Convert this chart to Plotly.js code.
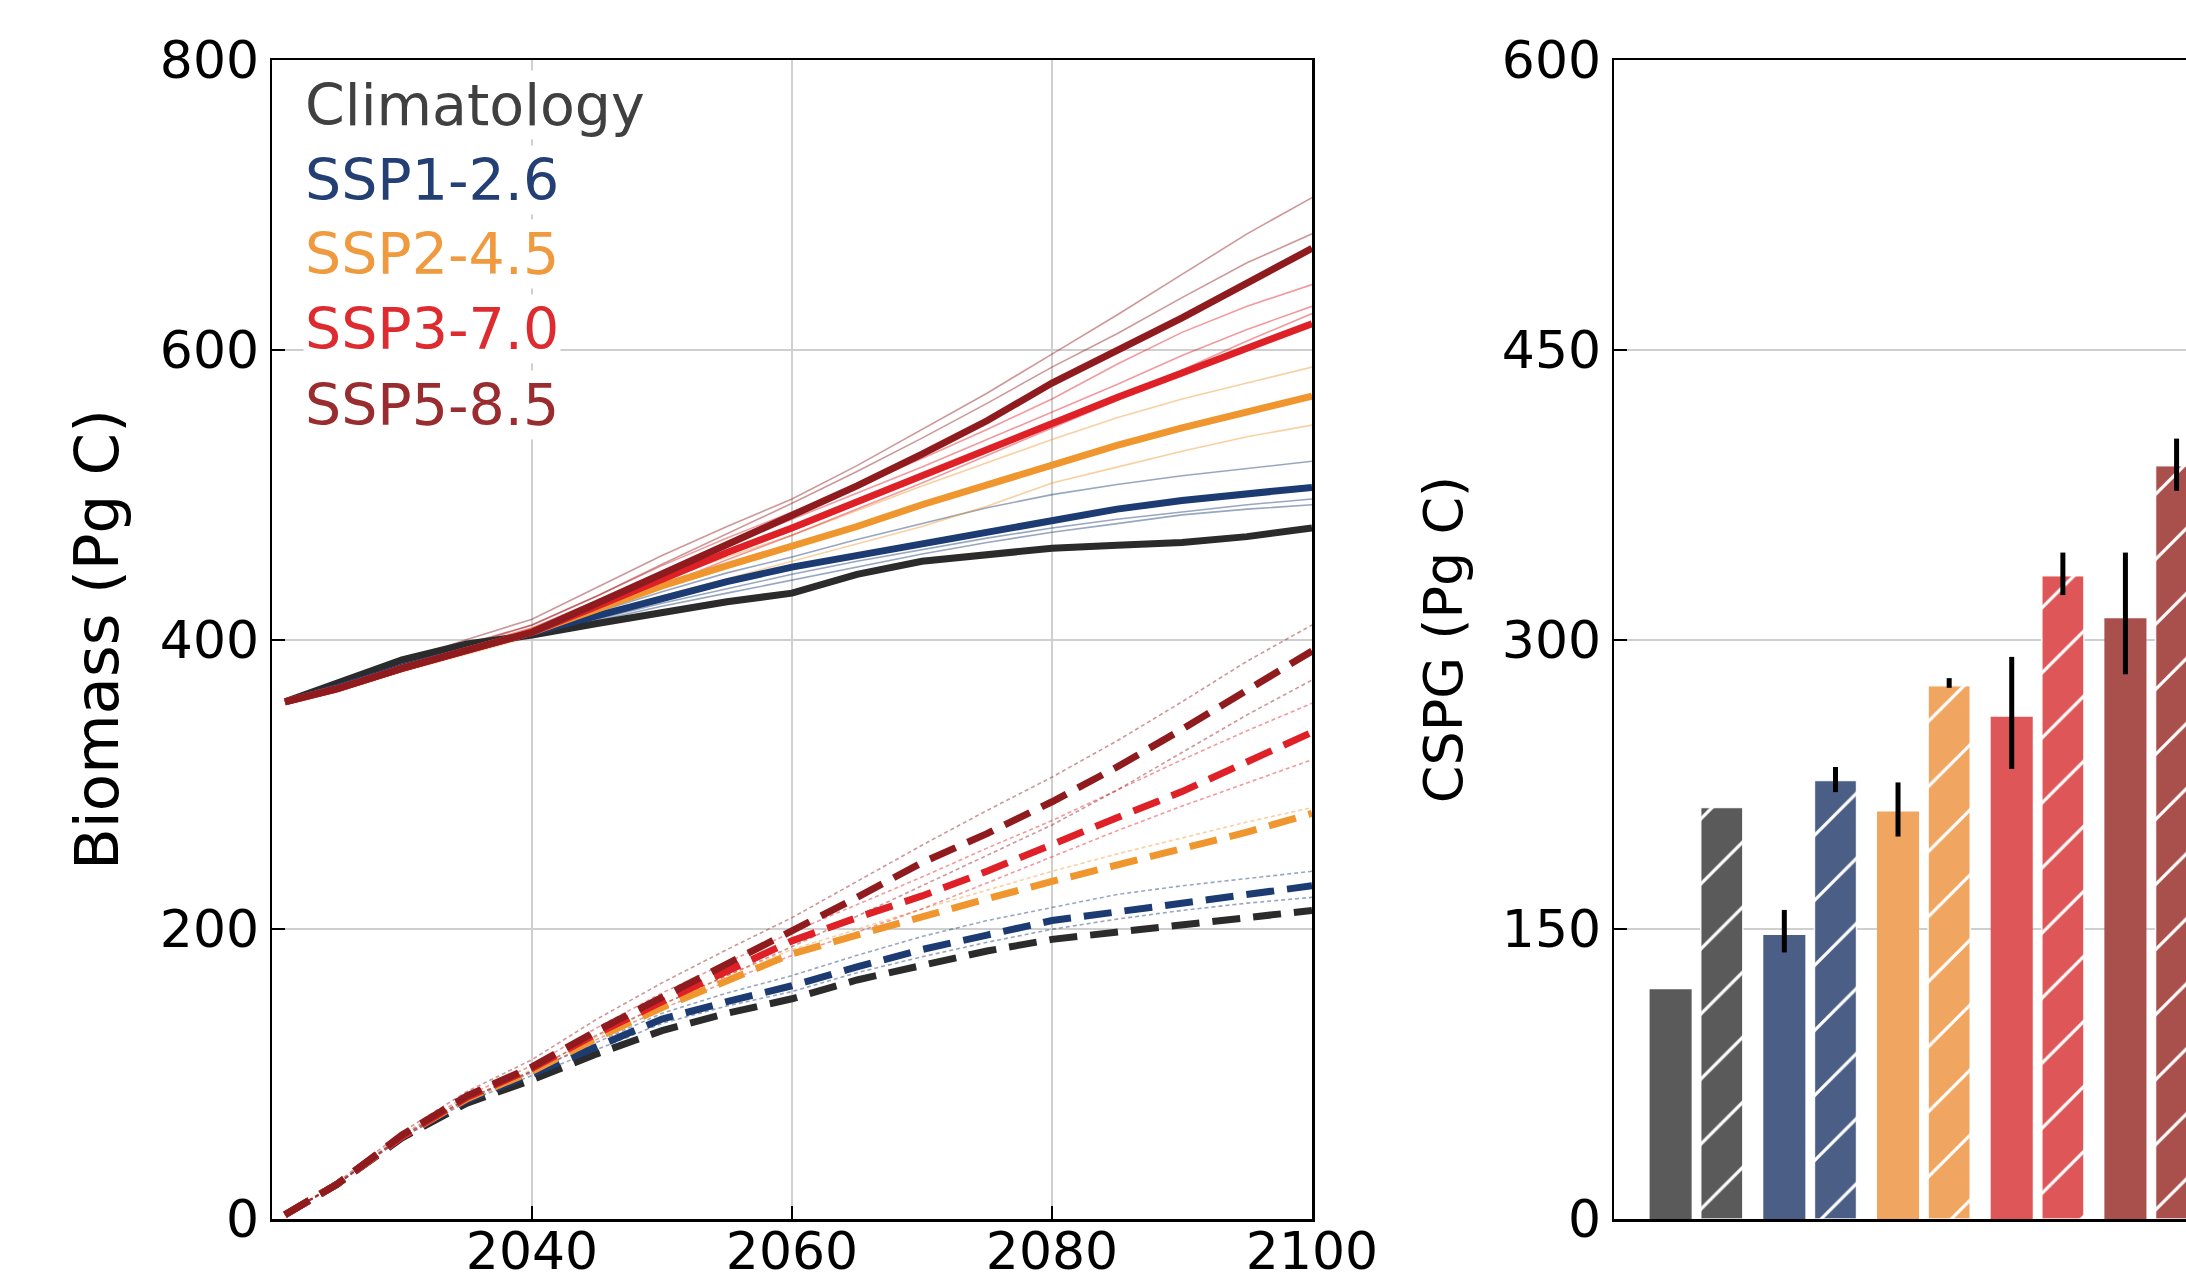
<!DOCTYPE html>
<html><head><meta charset="utf-8">
<script src="https://cdn.plot.ly/plotly-3.0.1.min.js"></script>
<style>html,body{margin:0;padding:0;overflow:hidden;background:#fff;width:2186px;height:1281px}#chart{width:2800px;height:1281px}</style>
</head><body><div id="chart"></div>
<script>
// ---- data ----
const years = [2021, 2025, 2030, 2035, 2040, 2045, 2050, 2055, 2060, 2065, 2070, 2075, 2080, 2085, 2090, 2095, 2100];
const scenarios = ['Climatology', 'SSP1-2.6', 'SSP2-4.5', 'SSP3-7.0', 'SSP5-8.5'];

// total biomass, ensemble means (solid)
const biomassClim = [357, 370, 386, 397, 403, 411, 419, 426, 432, 445, 454, 459, 463, 465, 467, 471, 477];
const biomassSSP1 = [357, 367, 381, 393, 404, 417, 429, 440, 450, 458, 466, 475, 483, 490, 496, 501, 505];
const biomassSSP2 = [357, 366, 380, 392, 405, 421, 437, 451, 464, 478, 493, 507, 520, 534, 546, 557, 568];
const biomassSSP3 = [357, 366, 380, 393, 405, 423, 442, 460, 477, 495, 513, 531, 550, 567, 584, 601, 618];
const biomassSSP5 = [357, 366, 380, 393, 405, 425, 445, 466, 486, 506, 528, 551, 577, 599, 622, 646, 670];

// total biomass, individual members (thin solid)
const biomassSSP1m1 = [357, 367, 381, 393, 405, 419, 433, 446, 457, 469, 480, 491, 500, 507, 513, 518, 523];
const biomassSSP1m2 = [357, 366, 380, 392, 403, 414, 425, 435, 445, 454, 462, 470, 477, 483, 488, 493, 497];
const biomassSSP1m3 = [357, 366, 380, 392, 403, 413, 423, 432, 441, 450, 459, 467, 474, 480, 486, 490, 493];
const biomassSSP2m1 = [357, 366, 381, 394, 408, 425, 442, 457, 472, 489, 506, 522, 538, 553, 566, 577, 588];
const biomassSSP2m2 = [357, 365, 378, 390, 402, 416, 430, 442, 454, 466, 478, 492, 508, 519, 530, 540, 548];
const biomassSSP3m1 = [357, 367, 383, 396, 410, 430, 451, 470, 488, 506, 525, 545, 566, 590, 612, 630, 645];
const biomassSSP3m2 = [357, 366, 381, 395, 408, 427, 446, 465, 483, 501, 519, 538, 557, 576, 596, 614, 630];
const biomassSSP3m3 = [357, 365, 378, 391, 403, 420, 437, 455, 472, 490, 508, 527, 546, 565, 586, 606, 625];
const biomassSSP5m1 = [357, 368, 385, 400, 414, 436, 458, 478, 497, 520, 545, 570, 597, 624, 652, 680, 705];
const biomassSSP5m2 = [357, 367, 383, 397, 410, 430, 452, 473, 494, 516, 539, 563, 588, 611, 636, 660, 680];

// cumulative sequestration, ensemble means (dashed)
const seqClim = [3, 24, 56, 80, 96, 114, 130, 142, 152, 165, 175, 185, 193, 198, 203, 208, 213];
const seqSSP1 = [3, 24, 57, 82, 100, 119, 138, 150, 161, 174, 186, 196, 206, 212, 218, 225, 230];
const seqSSP2 = [3, 24, 57, 83, 102, 125, 146, 165, 183, 196, 209, 221, 233, 244, 255, 267, 280];
const seqSSP3 = [3, 24, 57, 84, 104, 128, 150, 171, 192, 208, 223, 240, 259, 277, 295, 315, 336];
const seqSSP5 = [3, 24, 58, 85, 105, 130, 153, 176, 198, 222, 246, 266, 288, 312, 338, 365, 392];

// cumulative sequestration, members (thin dashed)
const seqSSP1m1 = [3, 24, 57, 83, 102, 122, 142, 156, 168, 182, 195, 206, 215, 224, 230, 235, 240];
const seqSSP1m2 = [3, 24, 56, 81, 99, 117, 135, 147, 157, 170, 181, 191, 200, 207, 213, 218, 222];
const seqSSP2m1 = [3, 24, 57, 83, 103, 126, 148, 168, 186, 200, 214, 227, 240, 252, 263, 274, 284];
const seqSSP3m1 = [3, 24, 58, 85, 106, 132, 156, 177, 198, 217, 236, 256, 275, 296, 317, 337, 356];
const seqSSP3m2 = [3, 24, 56, 82, 101, 124, 145, 164, 182, 198, 214, 232, 250, 268, 285, 301, 317];
const seqSSP5m1 = [3, 25, 60, 88, 110, 138, 163, 186, 208, 233, 258, 282, 305, 330, 357, 385, 410];
const seqSSP5m2 = [3, 24, 57, 83, 102, 127, 148, 168, 188, 209, 230, 251, 272, 296, 322, 348, 372];

// CSPG bars
const cspgSolid = [119, 147, 211, 260, 311];
const cspgSolidHigh = [null, 160, 226, 291, 345];
const cspgSolidLow = [null, 138, 198, 233, 282];
const cspgHatched = [213, 227, 276, 333, 390];
const cspgHatchedHigh = [null, 234, 280, 345, 404];
const cspgHatchedLow = [null, 221, 275, 323, 377];

// ---- styling ----
const lineCols = ['#2b2b2b', '#1b3b72', '#f0962e', '#df2027', '#8f1b1e'];
const textCols = ['#404040', '#233f73', '#ef9a3f', '#de2b30', '#992c2e'];
const barCols = ['#5a5a5a', '#4b5e85', '#f0a560', '#de5657', '#a94f4c'];
const FONT = 'DejaVu Sans, sans-serif';

const traces = [];
function line(y, col, width, dash, opacity) {
  traces.push({type: 'scatter', mode: 'lines', x: years, y: y, xaxis: 'x', yaxis: 'y',
    line: {color: col, width: width, dash: dash}, opacity: opacity, showlegend: false, hoverinfo: 'skip'});
}
// thin members
[[biomassSSP1m1, 1], [biomassSSP1m2, 1], [biomassSSP1m3, 1], [biomassSSP2m1, 2], [biomassSSP2m2, 2],
 [biomassSSP3m1, 3], [biomassSSP3m2, 3], [biomassSSP3m3, 3], [biomassSSP5m1, 4], [biomassSSP5m2, 4]]
  .forEach(([y, i]) => line(y, lineCols[i], 1.6, 'solid', 0.45));
[[seqSSP1m1, 1], [seqSSP1m2, 1], [seqSSP2m1, 2], [seqSSP3m1, 3], [seqSSP3m2, 3], [seqSSP5m1, 4], [seqSSP5m2, 4]]
  .forEach(([y, i]) => line(y, lineCols[i], 1.6, '4px,3px', 0.45));
// means
[biomassClim, biomassSSP1, biomassSSP2, biomassSSP3, biomassSSP5].forEach((y, i) => line(y, lineCols[i], 7, 'solid', 1));
[seqClim, seqSSP1, seqSSP2, seqSSP3, seqSSP5].forEach((y, i) => line(y, lineCols[i], 7, '28px,13px', 1));

// bars: one solid and one hatched bar per scenario
function errOne(v, hi, lo) {
  if (hi == null) return {visible: false};
  return {type: 'data', symmetric: false, array: [hi - v], arrayminus: [v - lo],
    color: '#000', thickness: 5, width: 0};
}
scenarios.forEach((s, i) => {
  traces.push({type: 'bar', x: [i], y: [cspgSolid[i]], xaxis: 'x2', yaxis: 'y2', width: 0.37, offset: -0.41,
    marker: {color: barCols[i], line: {width: 0}},
    error_y: errOne(cspgSolid[i], cspgSolidHigh[i], cspgSolidLow[i]),
    showlegend: false, hoverinfo: 'skip', name: s});
  traces.push({type: 'bar', x: [i], y: [cspgHatched[i]], xaxis: 'x2', yaxis: 'y2', width: 0.37, offset: 0.04,
    marker: {color: barCols[i], line: {width: 1.5, color: 'rgba(255,255,255,0.9)'},
      pattern: {shape: '/', fillmode: 'replace', bgcolor: barCols[i], fgcolor: '#ffffff',
        fgopacity: 1, size: 46, solidity: 0.07}},
    error_y: errOne(cspgHatched[i], cspgHatchedHigh[i], cspgHatchedLow[i]),
    showlegend: false, hoverinfo: 'skip', name: s});
});

// legend text
const legendY = [769, 717, 666, 614, 562];
const annotations = scenarios.map((s, i) => ({
  text: s, x: 2022.4, y: legendY[i], xref: 'x', yref: 'y', xanchor: 'left', yanchor: 'middle',
  showarrow: false, font: {family: FONT, size: 57, color: textCols[i]}, bgcolor: '#ffffff', borderpad: 1
}));

const W = 2800;
const axisCommon = {
  ticks: 'inside', ticklen: 13, tickwidth: 2, tickcolor: '#000',
  showline: true, linecolor: '#000', linewidth: 2.5, mirror: true,
  gridcolor: '#cfcfcf', gridwidth: 2, zeroline: false,
  tickfont: {family: FONT, size: 52, color: '#000'}
};
const layout = {
  width: W, height: 1281,
  margin: {l: 0, r: 0, t: 60, b: 62},
  paper_bgcolor: '#fff', plot_bgcolor: '#fff',
  font: {family: FONT},
  barmode: 'overlay',
  xaxis: Object.assign({}, axisCommon, {domain: [272 / W, 1312 / W], range: [2020, 2100],
    tickvals: [2040, 2060, 2080, 2100], showgrid: true, anchor: 'y', ticklabelstandoff: -15}),
  yaxis: Object.assign({}, axisCommon, {domain: [0, 1], range: [0, 800], tickvals: [0, 200, 400, 600, 800],
    showgrid: true, anchor: 'x',
    title: {text: 'Biomass (Pg C)', font: {family: FONT, size: 61, color: '#000'}, standoff: 22}}),
  xaxis2: Object.assign({}, axisCommon, {domain: [1614 / W, 2654 / W], range: [-0.723, 8.424],
    showticklabels: false, ticks: '', showgrid: false, anchor: 'y2'}),
  yaxis2: Object.assign({}, axisCommon, {domain: [0, 1], range: [0, 600], tickvals: [0, 150, 300, 450, 600],
    showgrid: true, anchor: 'x2',
    title: {text: 'CSPG (Pg C)', font: {family: FONT, size: 54, color: '#000'}, standoff: 22}}),
  annotations: annotations
};
Plotly.newPlot('chart', traces, layout, {staticPlot: true, displayModeBar: false});
</script>
</body></html>
